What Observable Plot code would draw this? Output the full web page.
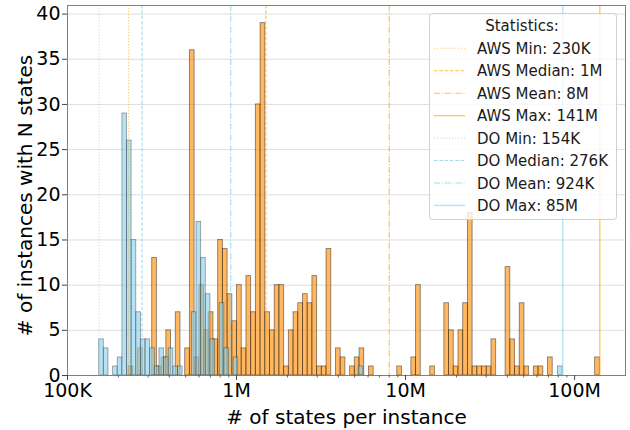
<!DOCTYPE html>
<html>
<head>
<meta charset="utf-8">
<script src="https://cdn.jsdelivr.net/npm/d3@7"></script>
<script src="https://cdn.jsdelivr.net/npm/@observablehq/plot@0.6"></script>
<style>
  body { margin: 0; background: #fff; font-family: "DejaVu Sans", sans-serif; }
  #wrap { position: relative; width: 630px; height: 430px; }
  #legend { position: absolute; left: 429px; top: 13px; }
</style>
</head>
<body>
<div id="wrap"></div>
<script>
// ---- data ----
// each series has its own 100 log-spaced bins between its min and max
const awsBinRange = [230000, 141000000];
const doBinRange = [154000, 85000000];
const binCount = 100;

const awsCounts = [
  1,0,3,0,0,13,1,2,5,0,   7,0,3,36,2,10,5,7,4,15,
  14,9,6,10,3,11,7,30,39,7, 5,10,10,1,5,7,8,9,8,11,
  1,1,14,0,3,2,0,1,2,3,   0,1,0,0,0,0,0,1,0,0,
  2,10,0,0,1,0,0,8,5,1,   5,8,18,1,1,1,1,4,0,0,
  12,4,1,8,1,0,1,1,0,2,   0,0,0,0,0,0,0,0,0,2
];
const doCounts = [
  4,3,0,1,2,29,26,15,7,4, 4,3,1,3,2,3,1,1,0,0,
  7,17,13,9,4,0,8,3,0,2,  0,0,0,0,0,0,0,0,0,0,
  0,0,0,0,0,0,0,0,0,0,    0,0,0,0,0,0,1,0,0,0,
  0,0,0,0,0,0,0,0,0,0,    0,0,0,0,0,0,0,0,0,0,
  0,0,0,0,0,0,0,0,0,0,    0,0,0,0,0,0,0,0,0,1
];

const statLabels = ["AWS Min: 230K","AWS Median: 1M","AWS Mean: 8M","AWS Max: 141M",
                    "DO Min: 154K","DO Median: 276K","DO Mean: 924K","DO Max: 85M"];
const statValues = [230000, 1490000, 8010000, 141000000, 154000, 276000, 924000, 85000000];
const statSeries = ["AWS","AWS","AWS","AWS","DO","DO","DO","DO"];
const statKinds  = ["min","median","mean","max","min","median","mean","max"];

const xTickValues = [1e5, 1e6, 1e7, 1e8];
const xTickLabels = ["100K", "1M", "10M", "100M"];
const yTickValues = [0, 5, 10, 15, 20, 25, 30, 35, 40];

// ---- styles ----
const seriesFill = {AWS: "#FF8C00", DO: "#87CEEB"};
const seriesLine = {AWS: "#FFA500", DO: "#87CEEB"};
const kindDash = {min: "1.2,1.8", median: "3.5,1.8", mean: "6,1.8,1.2,1.8", max: null};
const kindOpacity = {min: 0.55, median: 0.75, mean: 0.75, max: 0.6};
const kindWidth = {min: 1.1, median: 1.1, mean: 1.1, max: 1.4};

// ---- derived tables ----
function toBins(counts, range) {
  const lo = Math.log10(range[0]), hi = Math.log10(range[1]);
  const edges = d3.range(binCount + 1).map(i => Math.pow(10, lo + i * (hi - lo) / binCount));
  return counts.map((c, i) => ({x1: edges[i], x2: edges[i + 1], count: c})).filter(d => d.count > 0);
}
const awsBins = toBins(awsCounts, awsBinRange);
const doBins = toBins(doCounts, doBinRange);

const minorTicks = [];
for (let e = 5; e <= 8; e++) for (let m = 2; m <= 9; m++) {
  const v = m * Math.pow(10, e);
  if (v < 2e8) minorTicks.push(v);
}

const statMarks = statValues.map((v, i) => Plot.ruleX([v], {
  stroke: seriesLine[statSeries[i]],
  strokeOpacity: kindOpacity[statKinds[i]],
  strokeWidth: kindWidth[statKinds[i]],
  strokeDasharray: kindDash[statKinds[i]] || undefined
}));

const chart = Plot.plot({
  width: 630,
  height: 430,
  marginLeft: 67,
  marginRight: 5,
  marginTop: 5,
  marginBottom: 55,
  style: {fontFamily: "DejaVu Sans", background: "#fff", color: "#000"},
  x: {type: "log", domain: [1e5, 2e8]},
  y: {domain: [0, 40.95]},
  marks: [
    Plot.gridY(yTickValues, {stroke: "#d9d9d9", strokeOpacity: 1, strokeWidth: 0.9}),
    Plot.rectY(awsBins, {x1: "x1", x2: "x2", y: "count", fill: seriesFill.AWS, fillOpacity: 0.62,
      stroke: "#000", strokeOpacity: 0.45, strokeWidth: 0.9, inset: 0}),
    Plot.rectY(doBins, {x1: "x1", x2: "x2", y: "count", fill: seriesFill.DO, fillOpacity: 0.62,
      stroke: "#000", strokeOpacity: 0.35, strokeWidth: 0.9, inset: 0}),
    ...statMarks,
    Plot.frame({stroke: "#808080", strokeWidth: 1}),
    Plot.ruleX(minorTicks, {y1: 0, y2: 0, insetBottom: -2.5, stroke: "#444", strokeWidth: 0.8}),
    Plot.axisX(xTickValues, {tickSize: 5, tickPadding: 3, fontSize: 19, stroke: "#444",
      tickFormat: d => xTickLabels[xTickValues.indexOf(d)], label: null}),
    Plot.axisY(yTickValues, {tickSize: 5, tickPadding: 2, fontSize: 19, stroke: "#444", label: null}),
    Plot.text(["# of states per instance"], {frameAnchor: "bottom", textAnchor: "middle", lineAnchor: "middle",
      dy: 42, fontSize: 20, fill: "#000"}),
    Plot.text(["# of instances with N states"], {frameAnchor: "left", textAnchor: "middle", lineAnchor: "middle",
      dx: -42, dy: 5, rotate: -90, fontSize: 20, fill: "#000"})
  ]
});

const wrap = document.getElementById("wrap");
wrap.appendChild(chart);

// ---- legend ----
const ns = "http://www.w3.org/2000/svg";
const lw = 188, lh = 207;
const leg = document.createElementNS(ns, "svg");
leg.setAttribute("id", "legend");
leg.setAttribute("width", lw);
leg.setAttribute("height", lh);
leg.style.fontFamily = "DejaVu Sans";
const bg = document.createElementNS(ns, "rect");
bg.setAttribute("x", 0.5); bg.setAttribute("y", 0.5);
bg.setAttribute("width", lw - 1); bg.setAttribute("height", lh - 1);
bg.setAttribute("rx", 3);
bg.setAttribute("fill", "#fff"); bg.setAttribute("fill-opacity", 0.8);
bg.setAttribute("stroke", "#d0d0d0");
leg.appendChild(bg);
const title = document.createElementNS(ns, "text");
title.setAttribute("x", 93); title.setAttribute("y", 17.5);
title.setAttribute("text-anchor", "middle");
title.setAttribute("font-size", 15);
title.setAttribute("fill", "#1a1a1a");
title.textContent = "Statistics:";
leg.appendChild(title);
statLabels.forEach((lab, i) => {
  const cy = 35.3 + i * 22.45;
  const ln = document.createElementNS(ns, "line");
  ln.setAttribute("x1", 5); ln.setAttribute("x2", 36);
  ln.setAttribute("y1", cy); ln.setAttribute("y2", cy);
  ln.setAttribute("stroke", seriesLine[statSeries[i]]);
  ln.setAttribute("stroke-opacity", kindOpacity[statKinds[i]]);
  ln.setAttribute("stroke-width", kindWidth[statKinds[i]]);
  if (kindDash[statKinds[i]]) ln.setAttribute("stroke-dasharray", kindDash[statKinds[i]]);
  leg.appendChild(ln);
  const t = document.createElementNS(ns, "text");
  t.setAttribute("x", 48); t.setAttribute("y", cy + 5.5);
  t.setAttribute("font-size", 15);
  t.setAttribute("fill", "#1a1a1a");
  t.textContent = lab;
  leg.appendChild(t);
});
wrap.appendChild(leg);
</script>
</body>
</html>
